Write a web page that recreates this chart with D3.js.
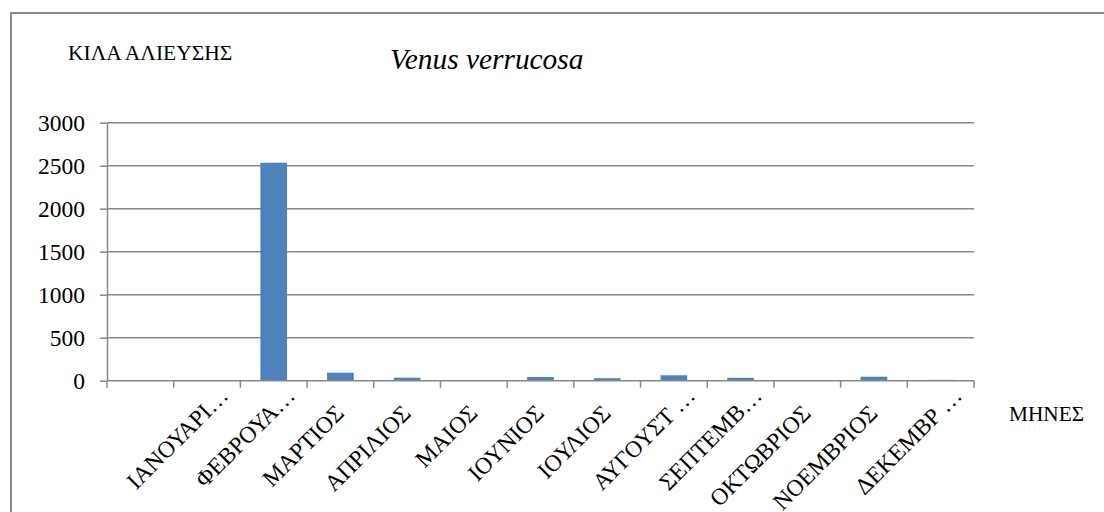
<!DOCTYPE html>
<html>
<head>
<meta charset="utf-8">
<script src="https://cdn.jsdelivr.net/npm/d3@7/dist/d3.min.js"></script>
<style>
  html, body { margin: 0; padding: 0; background: #fff; }
  svg { display: block; }
</style>
</head>
<body>
<script>
// ---- data ----
const categories = ["", "ΙΑΝΟΥΑΡΙ…", "ΦΕΒΡΟΥΑ…", "ΜΑΡΤΙΟΣ", "ΑΠΡΙΛΙΟΣ", "ΜΑΙΟΣ", "ΙΟΥΝΙΟΣ",
                    "ΙΟΥΛΙΟΣ", "ΑΥΓΟΥΣΤ …", "ΣΕΠΤΕΜΒ…", "ΟΚΤΩΒΡΙΟΣ", "ΝΟΕΜΒΡΙΟΣ", "ΔΕΚΕΜΒΡ …"];
const values = [null, 8, 2535, 93, 35, 0, 43, 29, 63, 34, 0, 46, 10];
const yTicks = [0, 500, 1000, 1500, 2000, 2500, 3000];
const chartTitle = "Venus verrucosa";
const yTitle = "ΚΙΛΑ ΑΛΙΕΥΣΗΣ";
const xTitle = "ΜΗΝΕΣ";

// pick an installed serif font
const candidates = ["Liberation Serif", "Times New Roman", "Tinos", "FreeSerif", "DejaVu Serif"];
const ctx = document.createElement("canvas").getContext("2d");
function w(f) { ctx.font = f; return ctx.measureText("ΚΙΛΑ Venus verrucosa 3000").width; }
const base = w("40px monospace");
const found = candidates.filter(c => w(`40px '${c}', monospace`) !== base);
const FONT = found.length ? `'${found[0]}', serif` : "serif";

// ---- layout ----
const W = 1104, H = 512;
const plot = { left: 107, right: 974, top: 122.7, bottom: 380.7 };
const gridColor = "#878787";
const barColor = "#4F81BD";

const svg = d3.select("body").append("svg").attr("width", W).attr("height", H)
  .style("font-family", FONT);

svg.append("rect").attr("x", 11).attr("y", 13).attr("width", W + 20).attr("height", H + 20)
  .attr("fill", "none").attr("stroke", "#8a8a8a").attr("stroke-width", 2);

const x = d3.scaleBand().domain(categories.map((c, i) => i)).range([plot.left, plot.right])
  .paddingInner(0.6).paddingOuter(0.3);
const y = d3.scaleLinear().domain([0, 3000]).range([plot.bottom, plot.top]);

svg.append("g").selectAll("line").data(yTicks.filter(t => t > 0)).join("line")
  .attr("x1", plot.left).attr("x2", plot.right)
  .attr("y1", d => y(d)).attr("y2", d => y(d))
  .attr("stroke", gridColor).attr("stroke-width", 1.5);

const yAxis = svg.append("g").attr("transform", `translate(${plot.left},0)`)
  .call(d3.axisLeft(y).tickValues(yTicks).tickSizeInner(7).tickSizeOuter(0).tickPadding(15).tickFormat(d3.format("d")));
yAxis.attr("font-family", null).attr("font-size", null);
yAxis.select(".domain").attr("stroke", gridColor).attr("stroke-width", 1.5);
yAxis.selectAll(".tick line").attr("stroke", gridColor).attr("stroke-width", 1.5);
yAxis.selectAll(".tick text").attr("font-size", 23.5).attr("fill", "#000");

svg.append("g").selectAll("rect").data(values.map((v, i) => ({ v, i })).filter(d => d.v !== null)).join("rect")
  .attr("x", d => x(d.i)).attr("width", x.bandwidth())
  .attr("y", d => y(d.v)).attr("height", d => y(0) - y(d.v))
  .attr("fill", barColor);

const step = x.step();
const bounds = categories.map((c, i) => x(i) - (step - x.bandwidth()) / 2);
bounds.push(bounds[bounds.length - 1] + step);
const xg = svg.append("g");
xg.append("line").attr("x1", plot.left).attr("x2", plot.right)
  .attr("y1", y(0)).attr("y2", y(0)).attr("stroke", gridColor).attr("stroke-width", 1.5);
xg.selectAll("line.tk").data(bounds).join("line").attr("class", "tk")
  .attr("x1", d => d).attr("x2", d => d).attr("y1", y(0)).attr("y2", y(0) + 7)
  .attr("stroke", gridColor).attr("stroke-width", 1.5);

svg.append("g").selectAll("text").data(categories.map((c, i) => ({ c, i })).filter(d => d.c !== "")).join("text")
  .attr("transform", d => `translate(${x(d.i) + x.bandwidth() / 2 + 5},${y(0) + 34}) rotate(-45)`)
  .attr("x", d => d.c.endsWith("…") ? 25 : 0)
  .attr("text-anchor", "end")
  .attr("font-size", 23.5)
  .text(d => d.c);

svg.append("text").attr("x", 390).attr("y", 69).attr("font-size", 29.4)
  .attr("font-style", "italic").text(chartTitle);
svg.append("text").attr("x", 68).attr("y", 60).attr("font-size", 21.5).text(yTitle);
svg.append("text").attr("x", 1009).attr("y", 421).attr("font-size", 21.3).text(xTitle);
</script>
</body>
</html>
